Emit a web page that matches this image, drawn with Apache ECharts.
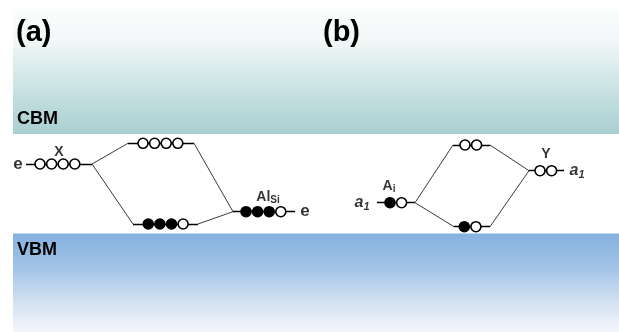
<!DOCTYPE html>
<html><head><meta charset="utf-8">
<script src="https://cdn.jsdelivr.net/npm/echarts@6/dist/echarts.min.js"></script>
<style>html,body{margin:0;padding:0;background:#fff}#c{width:619px;height:332px}</style>
</head><body><div id="c"></div>
<script>
// Energy scale: arbitrary units (0 = bottom of picture, 332 = top)
const bandNames = ['CBM', 'VBM'];
const bandLow = [198, 0];
const bandHigh = [332, 98.5];
const bandLeft = [13, 13];
const bandRight = [619, 619];

// Defect levels
const levelNames = ['X', 'a-anti', 'a-bond', 'AlSi', 'Ai', 'b-anti', 'b-bond', 'Y'];
const levelEnergy = [168, 188.7, 108, 120.3, 129.3, 187, 105.3, 161.3];
const levelStart = [26, 128, 133, 233, 377, 453, 454, 529];
const levelEnd = [92, 194, 198, 295, 415, 490, 490, 564];
const circleFirst = [40, 143, 148.3, 246, 390, 465, 464.3, 540];
// 1 = filled (occupied), 0 = empty
const occupancy = [[0,0,0,0],[0,0,0,0],[1,1,1,0],[1,1,1,0],[1,0],[0,0],[1,0],[0,0]];

// Level interactions: [from level (right end), to level (left end)]
const connections = [[0,1],[0,2],[1,3],[2,3],[4,5],[4,6],[5,7],[6,7]];

// Level tags
const tagText = ['X', '{m|Al}{s|Si}', '{m|A}{s|i}', 'Y'];
const tagX = [59, 268, 389, 546];
const tagE = [180, 135, 146, 178];

// Side labels
const sideText = ['e', 'e', '{a|a}{s|1}', '{a|a}{s|1}'];
const sideX = [18, 305, 362, 577];
const sideE = [168, 120.3, 129.3, 161.3];

const panelText = ['(a)', '(b)'];
const panelX = [16, 323];

const FONT = 'Liberation Sans, Arial, Helvetica, sans-serif';
const chart = echarts.init(document.getElementById('c'), null, {renderer: 'canvas'});

const bandColors = [
  new echarts.graphic.LinearGradient(0, 0, 0, 1, [
    {offset: 0, color: '#ffffff'}, {offset: 0.3, color: '#f2f7f7'},
    {offset: 0.7, color: '#c6e0e1'}, {offset: 1, color: '#a8cfd1'}]),
  new echarts.graphic.LinearGradient(0, 0, 0, 1, [
    {offset: 0, color: '#84b2df'}, {offset: 0.35, color: '#a3c4e7'},
    {offset: 0.7, color: '#d3e1f1'}, {offset: 1, color: '#f3f6fb'}])
];

const bandAreas = bandNames.map((n, i) => [
  {xAxis: bandLeft[i], yAxis: bandLow[i], itemStyle: {color: bandColors[i]},
   label: {show: true, formatter: n, position: i === 0 ? 'insideBottomLeft' : 'insideTopLeft',
     offset: i === 0 ? [-1, -1] : [-1, 3],
     fontFamily: FONT, fontWeight: 'bold', fontSize: 18, color: '#000'}},
  {xAxis: bandRight[i], yAxis: bandHigh[i]}
]);

const levelLines = levelNames.map((n, i) => ({coords: [[levelStart[i], levelEnergy[i]], [levelEnd[i], levelEnergy[i]]]}));
const connLines = connections.map(([a, b]) => ({coords: [[levelEnd[a], levelEnergy[a]], [levelStart[b], levelEnergy[b]]]}));

const SPACING = 11.6;
const circles = [];
occupancy.forEach((occ, i) => occ.forEach((f, k) => circles.push({
  value: [circleFirst[i] + k * SPACING, levelEnergy[i]],
  itemStyle: {color: f ? '#000' : '#fff'}
})));

const rich = {
  m: {fontFamily: FONT, fontWeight: 'bold', fontSize: 14, color: '#000'},
  s: {fontFamily: FONT, fontWeight: 'bold', fontSize: 10, color: '#000', padding: [7, 0, 0, 0]}
};
const richSide = {
  a: {fontFamily: FONT, fontWeight: 'bold', fontStyle: 'italic', fontSize: 16, color: '#000'},
  s: {fontFamily: FONT, fontWeight: 'bold', fontStyle: 'italic', fontSize: 11, color: '#000', padding: [8, 0, 0, 0]}
};

chart.setOption({
  animation: false,
  backgroundColor: '#fff',
  grid: {left: 0, right: 0, top: 0, bottom: 0},
  xAxis: {type: 'value', min: 0, max: 619, show: false},
  yAxis: {type: 'value', min: 0, max: 332, show: false},
  graphic: panelText.map((t, i) => ({
    type: 'text', left: panelX[i], top: 18, z: 100, silent: true,
    style: {text: t, fontSize: 29, fontWeight: 'bold', fontFamily: FONT, fill: '#000'}
  })),
  series: [
    {type: 'scatter', data: [], silent: true, markArea: {silent: true, data: bandAreas}},
    {type: 'lines', coordinateSystem: 'cartesian2d', silent: true, data: connLines,
     lineStyle: {color: '#3a3a3a', width: 1, opacity: 1}},
    {type: 'lines', coordinateSystem: 'cartesian2d', silent: true, data: levelLines,
     lineStyle: {color: '#000', width: 1.3, opacity: 1}},
    {type: 'scatter', silent: true, symbol: 'circle', symbolSize: 10, data: circles,
     itemStyle: {borderColor: '#000', borderWidth: 1.6, opacity: 1}},
    {type: 'scatter', silent: true, symbolSize: 0,
     data: tagText.map((t, i) => ({value: [tagX[i], tagE[i]], label: {formatter: t}})),
     label: {show: true, position: 'inside', rich: rich, fontFamily: FONT, fontWeight: 'bold', fontSize: 14, color: '#000'}},
    {type: 'scatter', silent: true, symbolSize: 0,
     data: sideText.map((t, i) => ({value: [sideX[i], sideE[i]], label: {formatter: t}})),
     label: {show: true, position: 'inside', rich: richSide, fontFamily: FONT, fontWeight: 'bold', fontSize: 17, color: '#000'}}
  ]
});
</script></body></html>
